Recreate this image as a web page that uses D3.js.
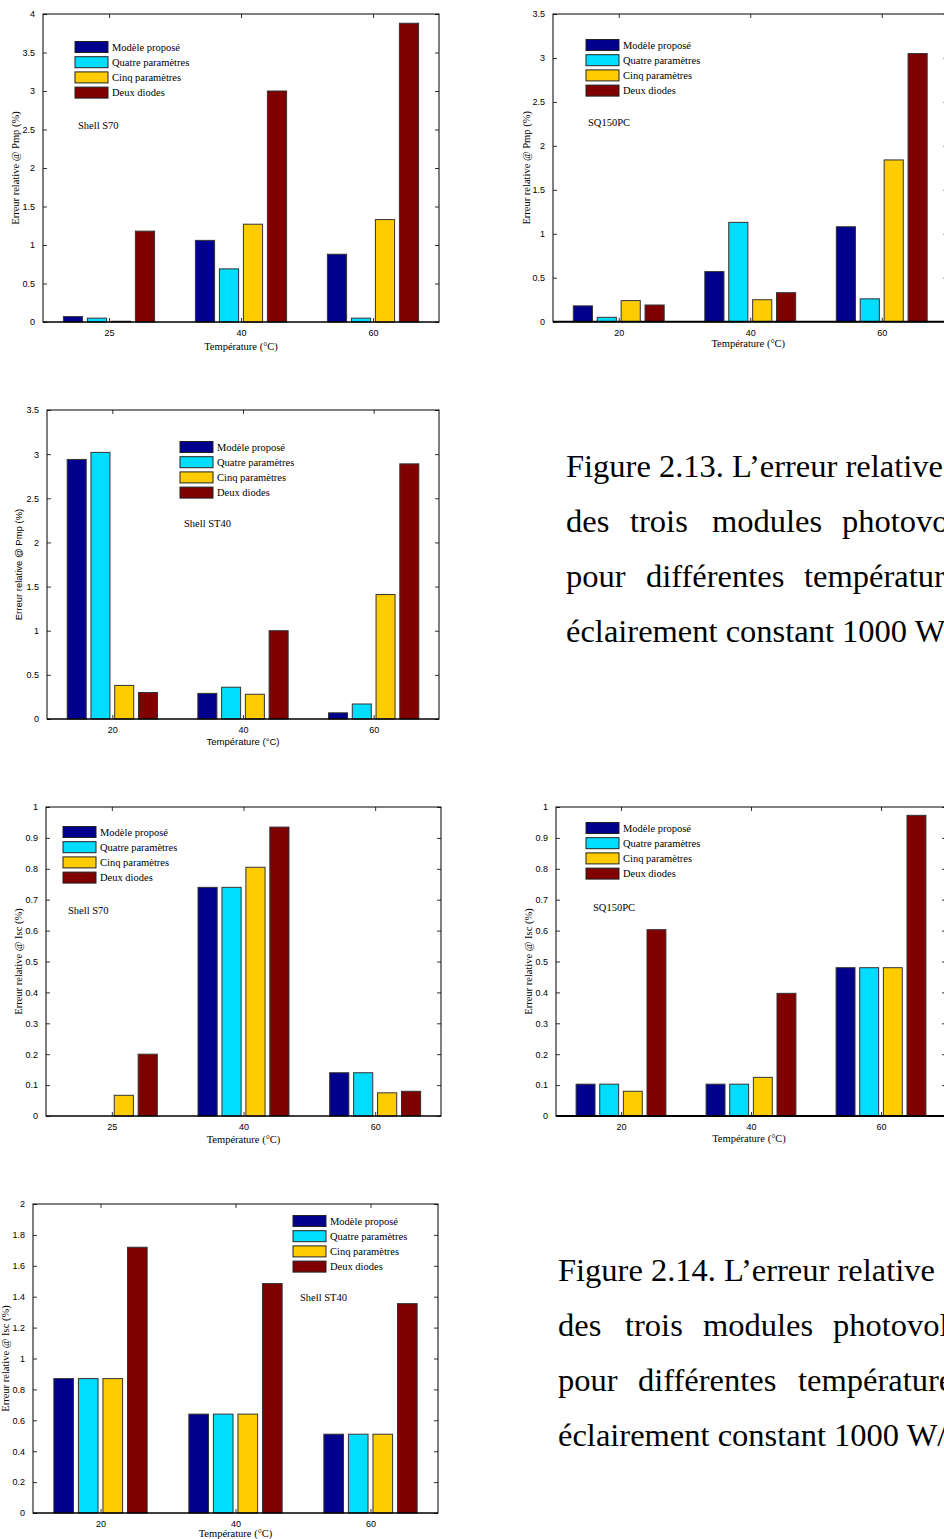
<!DOCTYPE html>
<html>
<head>
<meta charset="utf-8">
<script src="https://cdnjs.cloudflare.com/ajax/libs/d3/7.8.5/d3.min.js"></script>
<style>
  html, body { margin: 0; padding: 0; background: #fff; overflow: hidden; }
  svg { display: block; }
</style>
</head>
<body>
<div id="page"></div>
<script>
// ---- data ----
var seriesNames = ["Modèle proposé", "Quatre paramètres", "Cinq paramètres", "Deux diodes"];
var tempsS70 = ["25", "40", "60"];
var tempsOther = ["20", "40", "60"];

// one row per temperature, one value per series (%)
var pmpS70    = [[0.07, 0.05, 0.01, 1.18], [1.06, 0.69, 1.27, 3.00], [0.88, 0.05, 1.33, 3.88]];
var pmpSQ150  = [[0.18, 0.05, 0.24, 0.19], [0.57, 1.13, 0.25, 0.33], [1.08, 0.26, 1.84, 3.05]];
var pmpST40   = [[2.94, 3.02, 0.38, 0.30], [0.29, 0.36, 0.28, 1.00], [0.07, 0.17, 1.41, 2.89]];
var iscS70    = [[0.00, 0.00, 0.067, 0.20], [0.74, 0.74, 0.805, 0.935], [0.14, 0.14, 0.075, 0.08]];
var iscSQ150  = [[0.103, 0.103, 0.08, 0.603], [0.103, 0.103, 0.125, 0.397], [0.48, 0.48, 0.48, 0.973]];
var iscST40   = [[0.87, 0.87, 0.87, 1.72], [0.64, 0.64, 0.64, 1.485], [0.51, 0.51, 0.51, 1.355]];

var ticks4   = [0, 0.5, 1, 1.5, 2, 2.5, 3, 3.5, 4];
var ticks35  = [0, 0.5, 1, 1.5, 2, 2.5, 3, 3.5];
var ticks1   = [0, 0.1, 0.2, 0.3, 0.4, 0.5, 0.6, 0.7, 0.8, 0.9, 1];
var ticks2   = [0, 0.2, 0.4, 0.6, 0.8, 1, 1.2, 1.4, 1.6, 1.8, 2];

var caption13 = [
  ["Figure 2.13. L’erreur relative"],
  ["des", "trois", "modules", "photovoltaïques"],
  ["pour", "différentes", "températures"],
  ["éclairement constant 1000 W/m²"]
];
var caption14 = [
  ["Figure 2.14. L’erreur relative"],
  ["des", "trois", "modules", "photovoltaïques"],
  ["pour", "différentes", "températures"],
  ["éclairement constant 1000 W/m²"]
];

// ---- styles ----
var colors = ["#00008c", "#00ddff", "#ffcc00", "#800000"];
var SERIF = "'Liberation Serif', 'Times New Roman', serif";
var SANS = "'Liberation Sans', Arial, sans-serif";

var W = 944, H = 1539;
var svg = d3.select("#page").append("svg")
  .attr("width", W).attr("height", H)
  .style("font-family", SERIF);
svg.append("rect").attr("width", W).attr("height", H).attr("fill", "#fff");

var panels = [
  {left: 43, right: 439, top: 14, bottom: 322, cats: tempsS70, vals: pmpS70, ticks: ticks4,
   ylabel: "Erreur relative @ Pmp (%)", labelFont: SERIF, ylabelX: 15, xlabelY: 346,
   legend: [75, 47], tag: "Shell S70", tagPos: [78, 129], baseW: 1},
  {left: 553, right: 947.5, top: 14, bottom: 321.7, cats: tempsOther, vals: pmpSQ150, ticks: ticks35,
   ylabel: "Erreur relative @ Pmp (%)", labelFont: SERIF, ylabelX: 526, xlabelY: 343,
   legend: [586, 45], tag: "SQ150PC", tagPos: [588, 126], baseW: 2},
  {left: 47, right: 439, top: 410, bottom: 719, cats: tempsOther, vals: pmpST40, ticks: ticks35,
   ylabel: "Erreur relative @ Pmp (%)", labelFont: SANS, ylabelX: 18, xlabelY: 741,
   legend: [180, 447], tag: "Shell ST40", tagPos: [184, 527], baseW: 1},
  {left: 46, right: 441, top: 807, bottom: 1116, cats: tempsS70, vals: iscS70, ticks: ticks1,
   ylabel: "Erreur relative @ Isc (%)", labelFont: SERIF, ylabelX: 18, xlabelY: 1139,
   legend: [63, 832], tag: "Shell S70", tagPos: [68, 914], baseW: 1},
  {left: 556, right: 946, top: 807, bottom: 1116, cats: tempsOther, vals: iscSQ150, ticks: ticks1,
   ylabel: "Erreur relative @ Isc (%)", labelFont: SERIF, ylabelX: 528, xlabelY: 1138,
   legend: [586, 828], tag: "SQ150PC", tagPos: [593, 911], baseW: 2},
  {left: 33, right: 438, top: 1204, bottom: 1513, cats: tempsOther, vals: iscST40, ticks: ticks2,
   ylabel: "Erreur relative @ Isc (%)", labelFont: SERIF, ylabelX: 5, xlabelY: 1533,
   legend: [293, 1221], tag: "Shell ST40", tagPos: [300, 1301], baseW: 1}
];

panels.forEach(drawPanel);

function drawPanel(p) {
  var g = svg.append("g");
  var ymax = p.ticks[p.ticks.length - 1];
  var x = d3.scaleLinear().domain([0.5, p.cats.length + 0.5]).range([p.left, p.right]);
  var y = d3.scaleLinear().domain([0, ymax]).range([p.bottom, p.top]);
  var nS = seriesNames.length;
  var groupW = Math.min(0.8, nS / (nS + 1.5));
  var step = groupW / nS;
  var barW = step * 0.8;

  // bars
  p.vals.forEach(function(row, i) {
    g.selectAll(null).data(row).enter().append("rect")
      .attr("x", function(d, j) { return x(i + 1 + (j - (nS - 1) / 2) * step - barW / 2); })
      .attr("width", x(barW) - x(0))
      .attr("y", function(d) { return y(d); })
      .attr("height", function(d) { return y(0) - y(d); })
      .attr("fill", function(d, j) { return colors[j]; })
      .attr("stroke", function(d) { return d > 0 ? "#333" : "none"; })
      .attr("stroke-width", 1);
  });

  // box
  g.append("rect")
    .attr("x", p.left).attr("y", p.top)
    .attr("width", p.right - p.left).attr("height", p.bottom - p.top)
    .attr("fill", "none").attr("stroke", "#000").attr("stroke-width", 1);
  g.append("line")
    .attr("x1", p.left).attr("x2", p.right).attr("y1", p.bottom).attr("y2", p.bottom)
    .attr("stroke", "#000").attr("stroke-width", p.baseW);

  // y axis (ticks inside), mirrored on right side
  var yAxis = d3.axisLeft(y).tickValues(p.ticks).tickSizeInner(-4).tickSizeOuter(0)
    .tickPadding(8).tickFormat(d3.format("~g"));
  var ya = g.append("g").attr("transform", "translate(" + p.left + ",0)").call(yAxis);
  var yr = g.append("g").attr("transform", "translate(" + p.right + ",0)")
    .call(d3.axisRight(y).tickValues(p.ticks).tickSizeInner(-4).tickSizeOuter(0).tickFormat(""));

  // x axis (ticks inside), mirrored on top
  var xAxis = d3.axisBottom(x).tickValues(d3.range(1, p.cats.length + 1))
    .tickFormat(function(d) { return p.cats[d - 1]; })
    .tickSizeInner(-4).tickSizeOuter(0).tickPadding(8);
  var xa = g.append("g").attr("transform", "translate(0," + p.bottom + ")").call(xAxis);
  var xt = g.append("g").attr("transform", "translate(0," + p.top + ")")
    .call(d3.axisTop(x).tickValues(d3.range(1, p.cats.length + 1)).tickFormat("")
      .tickSizeInner(-4).tickSizeOuter(0));

  [ya, yr, xa, xt].forEach(function(a) {
    a.select(".domain").remove();
    a.selectAll(".tick line").attr("stroke", "#000").attr("stroke-width", 0.8);
  });
  [ya, xa].forEach(function(a) {
    a.selectAll(".tick text").attr("fill", "#000")
      .style("font-family", SANS).style("font-size", "9px");
  });

  // axis labels
  g.append("text")
    .attr("transform", "translate(" + p.ylabelX + "," + ((p.top + p.bottom) / 2) + ") rotate(-90)")
    .attr("text-anchor", "middle").attr("dominant-baseline", "central")
    .style("font-family", p.labelFont).style("font-size", p.labelFont === SANS ? "9.5px" : "10.5px")
    .text(p.ylabel);
  g.append("text")
    .attr("x", (p.left + p.right) / 2 - (p.right > W ? 2 : 0)).attr("y", p.xlabelY)
    .attr("text-anchor", "middle").attr("dominant-baseline", "central")
    .style("font-family", p.labelFont).style("font-size", p.labelFont === SANS ? "9.5px" : "10.5px")
    .text("Température (°C)");

  // legend
  var lg = g.append("g").attr("transform", "translate(" + p.legend[0] + "," + p.legend[1] + ")");
  var items = lg.selectAll("g").data(seriesNames).enter().append("g")
    .attr("transform", function(d, i) { return "translate(0," + (i * 15.2) + ")"; });
  items.append("rect")
    .attr("x", 0).attr("y", -5.5).attr("width", 33).attr("height", 11)
    .attr("fill", function(d, i) { return colors[i]; })
    .attr("stroke", "#222").attr("stroke-width", 1);
  items.append("text")
    .attr("x", 37).attr("y", 3.5)
    .style("font-size", "10.5px")
    .text(function(d) { return d; });

  // module name
  g.append("text").attr("x", p.tagPos[0]).attr("y", p.tagPos[1])
    .style("font-size", "10.5px").text(p.tag);
}

// ---- captions (justified lines, words placed as in the page; the page edge cuts them) ----
function drawCaption(lines, x0, y0, wordX) {
  var cg = svg.append("g").style("font-family", SERIF).style("font-size", "32.5px").attr("fill", "#000");
  lines.forEach(function(words, li) {
    words.forEach(function(w, wi) {
      cg.append("text")
        .attr("x", wordX[li] ? wordX[li][wi] : x0)
        .attr("y", y0 + li * 55)
        .text(w);
    });
  });
}
drawCaption(caption13, 566, 477, [[566], [566, 630, 712, 842], [566, 646, 804], [566]]);
drawCaption(caption14, 558, 1281, [[558], [558, 625, 703, 833], [558, 638, 798], [558]]);
</script>
</body>
</html>
